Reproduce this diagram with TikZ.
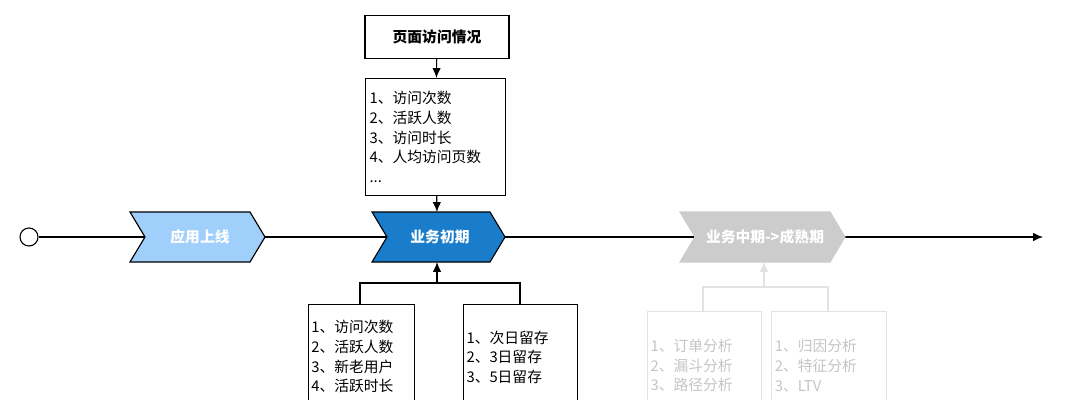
\documentclass[tikz,border=0pt]{standalone}
\usepackage{fontspec}
\setmainfont{Noto Sans CJK SC}
\usetikzlibrary{arrows.meta}
\usetikzlibrary{calc}
\definecolor{stageA}{HTML}{9FCFFA}
\definecolor{stageB}{HTML}{1A7DCB}
\definecolor{stageC}{HTML}{CCCCCC}
\definecolor{fadeline}{HTML}{E2E2E2}
\definecolor{fadetext}{HTML}{C4C4C4}
\tikzset{
	listbox/.style={draw,thick,anchor=north west,align=left,inner sep=2pt,font=\fontsize{10.5}{14}\selectfont},
	stagetext/.style={text=white,font=\bfseries\fontsize{10.5}{12}\selectfont}
}
\newcommand{\chevron}[4]{% x1, x2, fill, draw
	\draw[#4,thick,fill=#3] (#1,212) -- (#2-15,212) -- (#2,237) -- (#2-15,262) -- (#1,262) -- (#1+15,237) -- cycle;}

\begin{document}
\begin{tikzpicture}[x=0.025cm,y=-0.025cm,>/.tip={Latex[length=7pt,width=6pt]}]
	\useasboundingbox (0,0) rectangle (1069,400);
	\draw (29,237) node (start) [draw,thick,shape=circle,minimum size=0.45cm,inner sep=0] {};
	\coordinate (finish) at (1043,237);
	\draw[thick] (start) -- (700,237);
	\draw[thick,->] (845,237) -- (finish);
	\chevron{130}{265}{stageA}{black}
	\node [stagetext] (launch) at (200,237) {应用上线};
	\chevron{372}{505}{stageB}{black}
	\node [stagetext] (early) at (440,237) {业务初期};
	\chevron{680}{845}{stageC}{stageC}
	\node [stagetext] (mature) at (765,237) {业务中期->成熟期};
	\coordinate (earlytop) at (437,212);
	\coordinate (earlybot) at (437,262);
	\coordinate (maturebot) at (764,262);
	% top boxes
	\node [draw,thick,minimum width=3.6cm,minimum height=1.07cm,font=\bfseries\fontsize{10.5}{12}\selectfont] (page) at (437,37) {页面访问情况};
	\node [listbox,minimum width=3.5cm,minimum height=2.92cm,text width=3.3cm] (visit) at (365,78) {1、访问次数\\2、活跃人数\\3、访问时长\\4、人均访问页数\\...};
	\draw[thick,->] (page) -- (visit);
	\draw[thick,->] (visit) -- (earlytop);
	% bottom boxes
	\node [listbox,minimum width=2.62cm,minimum height=2.6cm,text width=2.5cm] (active) at (308,304) {1、访问次数\\2、活跃人数\\3、新老用户\\4、活跃时长};
	\node [listbox,minimum width=2.85cm,minimum height=3.1cm,text width=2.7cm] (retain) at (463,304) {1、次日留存\\2、3日留存\\3、5日留存\\...};
	\draw[thick] (360,304) |- (520,283) -- (520,304);
	\draw[thick,->] (437,283) -- (earlybot);
	\node [listbox,draw=fadeline,text=fadetext,minimum width=2.85cm,minimum height=2.7cm,text width=2.7cm] (order) at (647,311) {1、订单分析\\2、漏斗分析\\3、路径分析};
	\node [listbox,draw=fadeline,text=fadetext,minimum width=2.87cm,minimum height=2.7cm,text width=2.7cm] (cause) at (771,311) {1、归因分析\\2、特征分析\\3、LTV};
	\draw[thick,fadeline] (703,311) |- (828,287) -- (828,311);
	\draw[thick,fadeline,->] (764,287) -- (maturebot);
\end{tikzpicture}
\end{document}
